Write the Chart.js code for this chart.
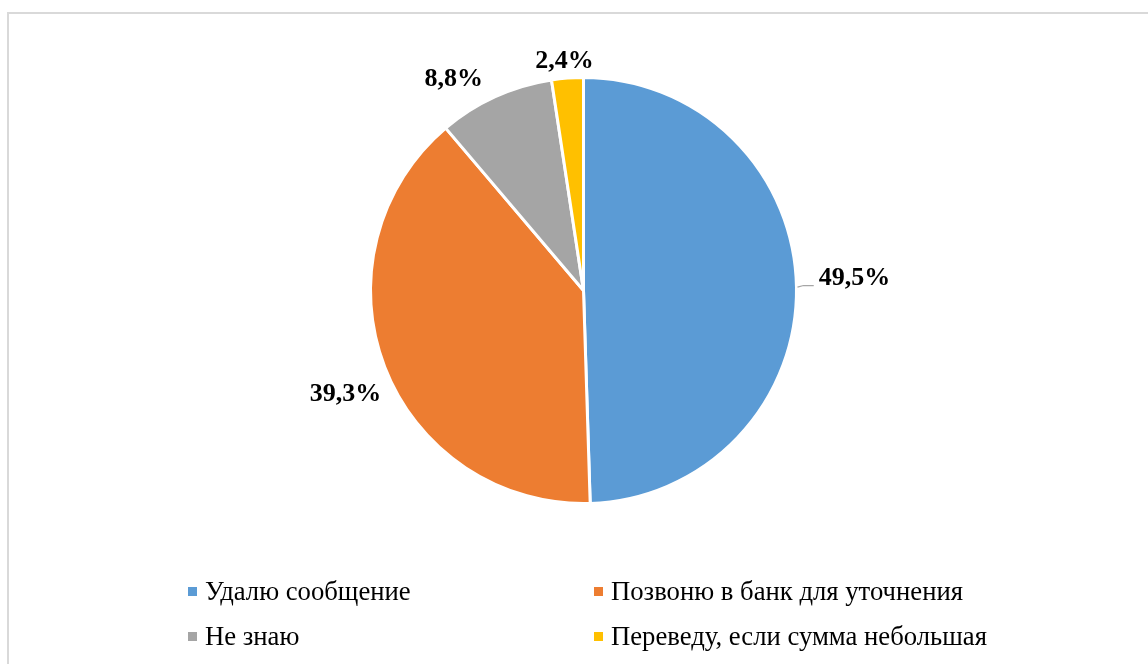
<!DOCTYPE html>
<html lang="ru">
<head>
<meta charset="utf-8">
<title>Действия при подозрительном сообщении</title>
<script src="https://cdn.jsdelivr.net/npm/chart.js@4/dist/chart.umd.min.js"></script>
<style>
  html, body { margin: 0; padding: 0; background: #fff; overflow: hidden; }
  #wrap { position: relative; width: 1148px; height: 664px; }
  #frame {
    position: absolute; left: 7px; top: 12px; width: 1160px; height: 700px;
    border: 2px solid #d9d9d9; box-sizing: border-box;
  }
  #pie { position: absolute; left: 0; top: 0; }
  #legend {
    position: absolute; left: 188px; top: 569px;
    display: grid; grid-template-columns: 406px auto;
    font-family: "Liberation Serif", "Times New Roman", serif;
    font-size: 26.7px; line-height: 45px; color: #000;
  }
  .item { display: flex; align-items: center; white-space: nowrap; }
  .swatch { width: 9px; height: 9px; margin-right: 8px; flex: none; }
</style>
</head>
<body>
<div id="wrap">
  <div id="frame"></div>
  <canvas id="pie" width="1148" height="664"></canvas>
  <div id="legend"></div>
</div>
<script>
const categories = [
  'Удалю сообщение',
  'Позвоню в банк для уточнения',
  'Не знаю',
  'Переведу, если сумма небольшая'
];
const shares = [49.5, 39.3, 8.8, 2.4];
const sliceColors = ['#5B9BD5', '#ED7D31', '#A5A5A5', '#FFC000'];

// fine placement of the percentage labels around the pie
const labelNudge = [
  { dx: 18, dy: -8, leader: true },
  { dx: -2, dy: 13, leader: false },
  { dx: -25, dy: 19, leader: false },
  { dx: 0, dy: 23, leader: false }
];

const fmtPct = v => v.toLocaleString('ru-RU', { minimumFractionDigits: 1, maximumFractionDigits: 1 }) + '%';

const sliceLabels = {
  id: 'sliceLabels',
  afterDatasetsDraw(chart) {
    const ctx = chart.ctx;
    const meta = chart.getDatasetMeta(0);
    const values = chart.data.datasets[0].data;
    ctx.save();
    ctx.font = 'bold 26px "Liberation Serif", "Times New Roman", serif';
    ctx.fillStyle = '#000';
    ctx.textAlign = 'center';
    ctx.textBaseline = 'middle';
    meta.data.forEach((arc, i) => {
      const p = arc.getProps(['x', 'y', 'startAngle', 'endAngle', 'outerRadius'], true);
      const mid = (p.startAngle + p.endAngle) / 2;
      const cos = Math.cos(mid), sin = Math.sin(mid);
      const r = p.outerRadius + 40;
      const n = labelNudge[i];
      const lx = p.x + cos * r + n.dx;
      const ly = p.y + sin * r + n.dy;
      const text = fmtPct(values[i]);
      if (n.leader) {
        const w = ctx.measureText(text).width;
        ctx.strokeStyle = '#a6a6a6';
        ctx.lineWidth = 1.2;
        ctx.beginPath();
        ctx.moveTo(p.x + cos * (p.outerRadius + 1), p.y + sin * (p.outerRadius + 1));
        ctx.lineTo(p.x + cos * (p.outerRadius + 7), ly + 7);
        ctx.lineTo(lx - w / 2 - 5, ly + 7);
        ctx.stroke();
      }
      ctx.fillText(text, lx, ly);
    });
    ctx.restore();
  }
};

const chart = new Chart(document.getElementById('pie'), {
  type: 'pie',
  data: {
    labels: categories,
    datasets: [{
      data: shares,
      backgroundColor: sliceColors,
      borderColor: '#fff',
      borderWidth: 3
    }]
  },
  options: {
    responsive: false,
    animation: false,
    radius: 213,
    layout: { padding: { left: 60, right: 41, top: 40, bottom: 123 } },
    plugins: {
      legend: { display: false },
      tooltip: { enabled: false }
    }
  },
  plugins: [sliceLabels]
});

// legend built from the chart's own labels
const legendEl = document.getElementById('legend');
chart.options.plugins.legend.labels.generateLabels(chart).forEach(item => {
  const row = document.createElement('div');
  row.className = 'item';
  const sw = document.createElement('span');
  sw.className = 'swatch';
  sw.style.background = item.fillStyle;
  const txt = document.createElement('span');
  txt.textContent = item.text;
  row.appendChild(sw);
  row.appendChild(txt);
  legendEl.appendChild(row);
});
</script>
</body>
</html>
